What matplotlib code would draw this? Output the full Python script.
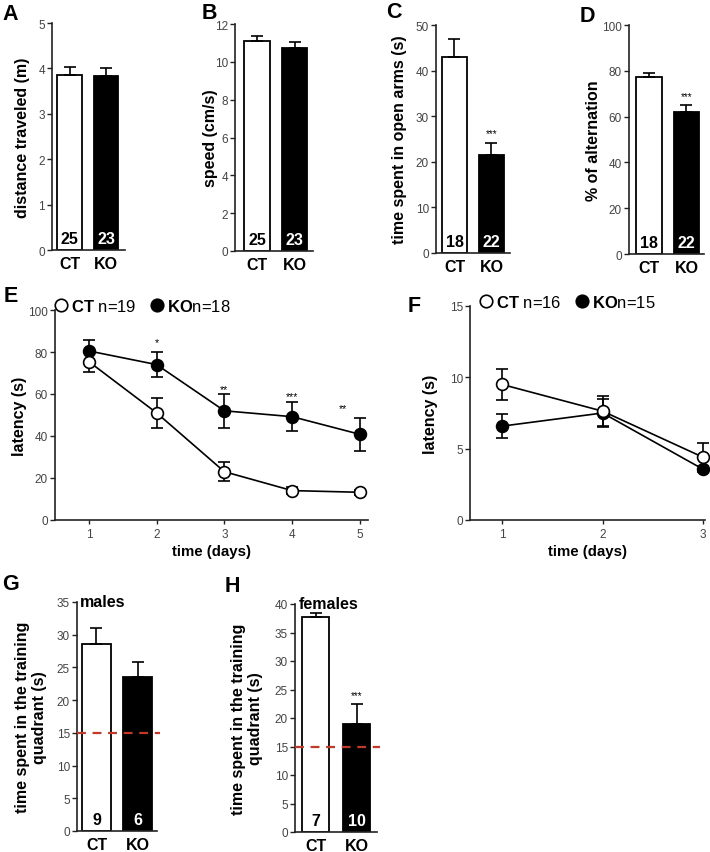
import matplotlib
matplotlib.use("Agg")
import matplotlib.pyplot as plt
from matplotlib.lines import Line2D
from matplotlib.ticker import MultipleLocator
import matplotlib.transforms as mtransforms

plt.rcParams['font.family'] = ['Liberation Sans', 'DejaVu Sans']
plt.rcParams['mathtext.fontset'] = 'custom'
plt.rcParams['mathtext.rm'] = 'Liberation Sans'
plt.rcParams['mathtext.bf'] = 'Liberation Sans:bold'

# ---------------- data ----------------
groups = ["CT", "KO"]

distance = [3.86, 3.83]
distance_err = [0.16, 0.185]
distance_n = ["25", "23"]

speed = [11.1, 10.75]
speed_err = [0.26, 0.32]
speed_n = ["25", "23"]

open_arms = [43.05, 21.5]
open_arms_err = [3.8, 2.7]
open_arms_n = ["18", "22"]

alternation = [77.1, 62.0]
alternation_err = [2.0, 2.9]
alternation_n = ["18", "22"]

days_e = [1, 2, 3, 4, 5]
ct_e = [75.4, 51.0, 23.0, 14.0, 13.2]
ct_e_err = [5.0, 7.0, 4.5, 1.8, 1.3]
ko_e = [80.5, 74.0, 52.0, 49.2, 40.8]
ko_e_err = [5.1, 6.0, 8.0, 7.0, 8.0]
sig_e = ["*", "**", "***", "**"]
sig_e_x = [2, 3, 4, 4.75]
sig_e_y = [84.5, 62.5, 59.0, 53.5]

days_f = [1, 2, 3]
ct_f = [9.5, 7.63, 4.4]
ct_f_err = [1.1, 1.05, 1.0]
ko_f = [6.58, 7.5, 3.56]
ko_f_err = [0.83, 1.0, 0.2]

males = [28.6, 23.5]
males_err = [2.35, 2.3]
males_n = ["9", "6"]

females = [37.78, 18.9]
females_err = [0.65, 3.5]
females_n = ["7", "10"]

chance_level = 15

# ---------------- layout helpers ----------------
W, H = 710, 853
fig = plt.figure(figsize=(W / 100, H / 100), dpi=100)

SPINE = '#222222'
TICKC = '#444444'
LAB_FS = 11.5


def add_ax(l, t, r, b):
    return fig.add_axes([l / W, 1 - b / H, (r - l) / W, (b - t) / H])


def style(ax, tick_fs=8.5):
    for s in ['top', 'right']:
        ax.spines[s].set_visible(False)
    for s in ['left', 'bottom']:
        ax.spines[s].set_color(SPINE)
        ax.spines[s].set_linewidth(1.2)
    ax.tick_params(axis='y', direction='out', length=3.5, width=1.0,
                   colors=SPINE, labelcolor=TICKC, labelsize=tick_fs, pad=1.5)


def set_ylab(ax, text, dx_px, width_px, fs=LAB_FS):
    ax.set_ylabel(text, fontsize=fs, fontweight='bold', linespacing=1.1)
    ax.yaxis.label.set_verticalalignment('center')
    ax.yaxis.set_label_coords(dx_px / width_px, 0.5)


def bar_panel(box, vals, errs, ns, ymax, step, ylab, lab_dx, sig=None,
              sig_fs=7, title=None, chance=None, bar_w=0.68, xlim=(-0.5, 1.5)):
    l, t, r, b = box
    ax = add_ax(l, t, r, b)
    x = [0, 1]
    ax.bar(x, vals, width=bar_w, color=['white', 'black'], edgecolor='black',
           linewidth=1.3, zorder=2)
    ax.errorbar(x, vals, yerr=[[0, 0], errs], fmt='none', ecolor='black',
                elinewidth=1.2, capsize=4, capthick=1.2, zorder=3)
    if chance is not None:
        ax.axhline(chance, xmin=0, xmax=1.04, color='#c0392b', lw=1.6,
                   ls=(0, (4, 3)), zorder=4, clip_on=False)
    trans = mtransforms.blended_transform_factory(ax.transData, ax.transAxes)
    for xi, n, c in zip(x, ns, ['black', 'white']):
        ax.text(xi, 0.018, n, transform=trans, ha='center', va='bottom',
                fontsize=11.5, fontweight='bold', color=c, zorder=5)
    if sig:
        ax.text(1, vals[1] + errs[1] + ymax * 0.02, sig, ha='center',
                va='bottom', fontsize=sig_fs, color='black')
    if title:
        ax.text(0.04, 1.0, title, transform=ax.transAxes, ha='left',
                va='center', fontsize=11.5, fontweight='bold')
    ax.set_xlim(*xlim)
    ax.set_ylim(0, ymax)
    ax.yaxis.set_major_locator(MultipleLocator(step))
    ax.set_xticks(x)
    ax.set_xticklabels(groups, fontsize=11.5, fontweight='bold')
    style(ax)
    ax.tick_params(axis='x', length=0, pad=4, labelcolor='black')
    set_ylab(ax, ylab, lab_dx, r - l)
    return ax


# ---------------- top bar panels ----------------
bar_panel((52, 24, 125, 251), distance, distance_err, distance_n, 5, 1,
          "distance traveled (m)", -30, xlim=(-0.48, 1.52))
bar_panel((235, 25, 313, 252), speed, speed_err, speed_n, 12, 2,
          "speed (cm/s)", -24, xlim=(-0.59, 1.49))
bar_panel((436, 26, 510, 254), open_arms, open_arms_err, open_arms_n, 50, 10,
          "time spent in open arms (s)", -36, sig="***")
bar_panel((629, 26, 704, 255), alternation, alternation_err, alternation_n,
          100, 20, "% of alternation", -36, sig="***", xlim=(-0.53, 1.47))

# ---------------- line panels ----------------
def line_panel(box, days, ct, ct_err, ko, ko_err, ymax, step, xlim, legend_labels,
               leg_x, lab_dx, sig=None, sig_x=None, sig_y=None):
    l, t, r, b = box
    ax = add_ax(l, t, r, b)
    ax.errorbar(days, ko, yerr=ko_err, color='black', lw=1.2, elinewidth=1.2,
                capsize=4, capthick=1.2, marker='o', ms=8.5, mfc='black',
                mec='black', mew=1.2, zorder=3, clip_on=False)
    ax.errorbar(days, ct, yerr=ct_err, color='black', lw=1.2, elinewidth=1.2,
                capsize=4, capthick=1.2, marker='o', ms=8.5, mfc='white',
                mec='black', mew=1.2, zorder=4, clip_on=False)
    if sig:
        for s, sx, sy in zip(sig, sig_x, sig_y):
            ax.text(sx, sy, s, ha='center', va='center', fontsize=7.5)
    ax.set_xlim(*xlim)
    ax.set_ylim(0, ymax)
    ax.set_xticks(days)
    ax.yaxis.set_major_locator(MultipleLocator(step))
    style(ax, tick_fs=8.5)
    ax.tick_params(axis='x', direction='out', length=3, width=1.0,
                   colors=SPINE, labelcolor=TICKC, labelsize=8.5, pad=3)
    ax.set_xlabel("time (days)", fontsize=10.8, fontweight='bold', labelpad=3)
    set_ylab(ax, "latency (s)", lab_dx, r - l)
    handles = [Line2D([], [], ls='none', marker='o', ms=9, mfc='white',
                      mec='black', mew=1.2),
               Line2D([], [], ls='none', marker='o', ms=9, mfc='black',
                      mec='black', mew=1.2)]
    ax.legend(handles, legend_labels, loc='center left',
              bbox_to_anchor=(leg_x, 1.02), ncol=2, frameon=False,
              handletextpad=0.15, columnspacing=0.8, handlelength=0.9,
              borderpad=0, borderaxespad=0, fontsize=12)
    return ax


line_panel((55, 311, 368, 521), days_e, ct_e, ct_e_err, ko_e, ko_e_err, 100, 20,
           (0.5, 5.12), [r"$\mathbf{CT}$ n=19", r"$\mathbf{KO}$n=18"],
           -0.005, -35, sig=sig_e, sig_x=sig_e_x, sig_y=sig_e_y)
line_panel((470, 307, 705, 521), days_f, ct_f, ct_f_err, ko_f, ko_f_err, 15, 5,
           (0.68, 3.02), [r"$\mathbf{CT}$ n=16", r"$\mathbf{KO}$n=15"],
           0.035, -40)

# ---------------- bottom bar panels ----------------
bar_panel((77, 603, 157, 832), males, males_err, males_n, 35, 5,
          "time spent in the training\nquadrant (s)", -46, title="males",
          chance=chance_level, bar_w=0.7, xlim=(-0.47, 1.46))
bar_panel((295, 605, 377, 833), females, females_err, females_n, 40, 5,
          "time spent in the training\nquadrant (s)", -48, title="females",
          chance=chance_level, sig="***", xlim=(-0.5, 1.5))

# ---------------- panel letters ----------------
letters = [("A", 2, 20), ("B", 202, 19), ("C", 386, 18), ("D", 580, 22),
           ("E", 4, 302), ("F", 408, 312), ("G", 2, 590), ("H", 225, 592)]
for s, px, py in letters:
    fig.text(px / W, 1 - py / H, s, ha='left', va='baseline', fontsize=15.5,
             fontweight='bold')

fig.savefig("out.png", dpi=100)
